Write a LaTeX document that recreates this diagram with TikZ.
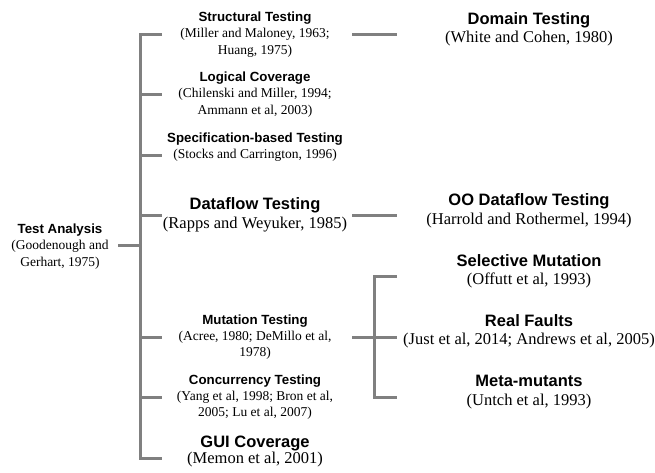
\documentclass[tikz,border=0pt]{standalone}
\usepackage{fontspec}
\setmainfont{Liberation Serif}
\newfontfamily\headfont{Liberation Sans}
\begin{document}
\begin{tikzpicture}[x=1pt,y=-1pt,
  smallhead/.style={anchor=base,inner sep=0pt,font=\headfont\bfseries\fontsize{13.3}{16}\selectfont},
  smallcite/.style={anchor=base,inner sep=0pt,font=\fontsize{13.5}{16}\selectfont},
  bighead/.style={anchor=base,inner sep=0pt,font=\headfont\bfseries\fontsize{16.5}{19}\selectfont},
  bigcite/.style={anchor=base,inner sep=0pt,font=\fontsize{16.5}{19}\selectfont},
  branch/.style={draw=black!50,line width=3pt}]
\path[use as bounding box] (0,0) rectangle (655,472);

% root
\node[smallhead] (root)  at (60,233.8) {Test Analysis};
\node[smallcite] (root2) at (60,249.5) {(Goodenough and};
\node[smallcite] (root3) at (60,266.5) {Gerhart, 1975)};

% middle column
\node[smallhead] (st)  at (255,21.8) {Structural Testing};
\node[smallcite] (st2) at (255,37.5) {(Miller and Maloney, 1963;};
\node[smallcite] (st3) at (255,54.5) {Huang, 1975)};

\node[smallhead] (lc)  at (255,81.8) {Logical Coverage};
\node[smallcite] (lc2) at (255,97.5) {(Chilenski and Miller, 1994;};
\node[smallcite] (lc3) at (255,114.5) {Ammann et al, 2003)};

\node[smallhead] (sb)  at (255,142.8) {Specification-based Testing};
\node[smallcite] (sb2) at (255,158.5) {(Stocks and Carrington, 1996)};

\node[bighead] (df)  at (255,209.9) {Dataflow Testing};
\node[bigcite] (df2) at (255,228.2) {(Rapps and Weyuker, 1985)};

\node[smallhead] (mt)  at (255,324.8) {Mutation Testing};
\node[smallcite] (mt2) at (255,340.5) {(Acree, 1980; DeMillo et al,};
\node[smallcite] (mt3) at (255,356.5) {1978)};

\node[smallhead] (ct)  at (255,384.8) {Concurrency Testing};
\node[smallcite] (ct2) at (255,400.5) {(Yang et al, 1998; Bron et al,};
\node[smallcite] (ct3) at (255,416.5) {2005; Lu et al, 2007)};

\node[bighead] (gui)  at (255,447.9) {GUI Coverage};
\node[bigcite] (gui2) at (255,463.2) {(Memon et al, 2001)};

% right column
\node[bighead] (dt)  at (529,24.9) {Domain Testing};
\node[bigcite] (dt2) at (529,42.2) {(White and Cohen, 1980)};

\node[bighead] (oo)  at (529,205.9) {OO Dataflow Testing};
\node[bigcite] (oo2) at (529,224.2) {(Harrold and Rothermel, 1994)};

\node[bighead] (sm)  at (529,266.9) {Selective Mutation};
\node[bigcite] (sm2) at (529,284.2) {(Offutt et al, 1993)};

\node[bighead] (rf)  at (529,326.9) {Real Faults};
\node[bigcite] (rf2) at (529,344.2) {(Just et al, 2014; Andrews et al, 2005)};

\node[bighead] (mm)  at (529,386.9) {Meta-mutants};
\node[bigcite] (mm2) at (529,405.2) {(Untch et al, 1993)};

% junction points of the trees
\coordinate (rootOut) at (118,245.7);
\coordinate (trunk)   at (140,245.7);
\coordinate (stIn)  at (162,34);
\coordinate (lcIn)  at (162,94);
\coordinate (sbIn)  at (162,155);
\coordinate (dfIn)  at (162,215);
\coordinate (mtIn)  at (162,337);
\coordinate (ctIn)  at (162,397);
\coordinate (guiIn) at (162,458);

\coordinate (stOut) at (352,34);
\coordinate (dtIn)  at (397,34);
\coordinate (dfOut) at (352,215);
\coordinate (ooIn)  at (397,215);
\coordinate (mtOut) at (352,337);
\coordinate (smIn)  at (397,276);
\coordinate (rfIn)  at (397,337);
\coordinate (mmIn)  at (397,397);

% main tree
\draw[branch] (rootOut) -- (trunk);
\draw[branch] (stIn) -- (trunk |- stIn) -- (trunk |- guiIn) -- (guiIn);
\foreach \c in {lcIn,sbIn,dfIn,mtIn,ctIn}
  \draw[branch] (trunk |- \c) -- (\c);

% second level
\draw[branch] (stOut) -- (dtIn);
\draw[branch] (dfOut) -- (ooIn);
\draw[branch] (mtOut) -- (rfIn);
\draw[branch] (smIn) -- (374,276) -- (374,397) -- (mmIn);
\end{tikzpicture}
\end{document}
